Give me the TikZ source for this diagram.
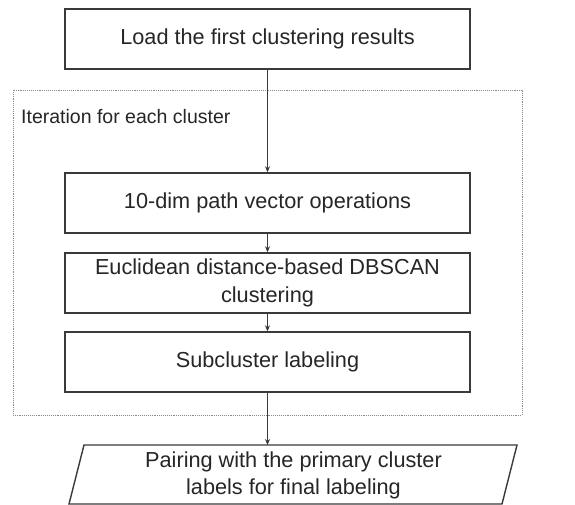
\documentclass[tikz,border=0pt]{standalone}
\usepackage{fontspec}
\setmainfont{Liberation Sans}
\usetikzlibrary{arrows.meta}
\definecolor{linec}{HTML}{3A3A3A}
\definecolor{textc}{HTML}{262626}
\definecolor{framec}{HTML}{8A8A8A}
\tikzset{
  stepbox/.style={draw=linec, line width=1.4pt, minimum width=405pt, minimum height=60pt,
    inner sep=0pt, text=textc, font=\fontsize{21.7}{28}\selectfont, align=center},
  flow/.style={draw=linec, line width=1.2pt, -{Stealth[length=6pt,width=5pt]}},
  frame/.style={draw=framec, line width=0.9pt, densely dotted},
}
\begin{document}
\begin{tikzpicture}[x=1pt,y=-1pt]
\useasboundingbox (0,0) rectangle (575,505);
\fill[white] (0,0) rectangle (575,505);
% iteration frame
\draw[frame] (13,90) rectangle (522,415);
\node[anchor=base west, inner sep=0pt, text=textc, font=\fontsize{19.5}{24}\selectfont] (iterlbl) at (21,124) {Iteration for each cluster};
% boxes
\node[stepbox] (load) at (267.5,39) {Load the first clustering results};
\node[stepbox] (vec) at (267.5,203) {10-dim path vector operations};
\node[stepbox] (dbscan) at (267.5,283) {Euclidean distance-based DBSCAN\\clustering};
\node[stepbox] (sub) at (267.5,362) {Subcluster labeling};
% parallelogram
\draw[draw=linec, line width=1.4pt] (84,445) -- (517,445) -- (502,504) -- (69,504) -- cycle;
\coordinate (pairtop) at (267.5,445);
\node[inner sep=0pt, text=textc, font=\fontsize{21.7}{27}\selectfont, align=center] (pair) at (293.5,475) {Pairing with the primary cluster\\labels for final labeling};
% connectors
\draw[flow] (load) -- (vec);
\draw[flow] (vec) -- (dbscan);
\draw[flow] (dbscan) -- (sub);
\draw[flow] (sub) -- (pairtop);
\end{tikzpicture}
\end{document}
